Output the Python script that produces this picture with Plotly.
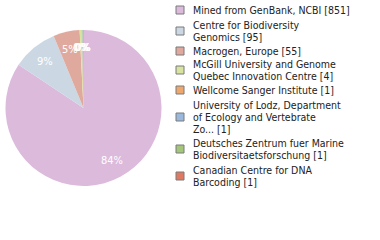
import math
import plotly.graph_objects as go

# ---- data ----
labels = [
    "Mined from GenBank, NCBI",
    "Centre for Biodiversity Genomics",
    "Macrogen, Europe",
    "McGill University and Genome Quebec Innovation Centre",
    "Wellcome Sanger Institute",
    "University of Lodz, Department of Ecology and Vertebrate Zo...",
    "Deutsches Zentrum fuer Marine Biodiversitaetsforschung",
    "Canadian Centre for DNA Barcoding",
]
counts = [851, 95, 55, 4, 1, 1, 1, 1]
# legend line wrapping (text as shown)
legend_lines = [
    ["Mined from GenBank, NCBI [851]"],
    ["Centre for Biodiversity", "Genomics [95]"],
    ["Macrogen, Europe [55]"],
    ["McGill University and Genome", "Quebec Innovation Centre [4]"],
    ["Wellcome Sanger Institute [1]"],
    ["University of Lodz, Department", "of Ecology and Vertebrate", "Zo... [1]"],
    ["Deutsches Zentrum fuer Marine", "Biodiversitaetsforschung [1]"],
    ["Canadian Centre for DNA", "Barcoding [1]"],
]
colors = ["#dcbadc", "#cbd8e3", "#dfa99d", "#d9e3a0", "#eea86e", "#99b8dc", "#a3c67b", "#de7a62"]

W, H = 380, 240
FONT = "DejaVu Sans Condensed, DejaVu Sans"

# pie geometry (pixels)
PX0, PX1, PY0, PY1 = 5, 162, 30, 186
cx, cy = (PX0 + PX1) / 2, (PY0 + PY1) / 2
R = (PY1 - PY0) / 2

fig = go.Figure()
fig.add_trace(go.Pie(
    labels=labels, values=counts, sort=False, direction="clockwise", rotation=0,
    marker=dict(colors=colors, line=dict(width=0)),
    textinfo="none",
    domain=dict(x=[PX0 / W, PX1 / W], y=[(H - PY1) / H, (H - PY0) / H]),
    showlegend=False, hoverinfo="label+value+percent",
))

shapes, annots = [], []

# percentage labels placed along each slice's bisector
total = sum(counts)
cum = 0
for v in counts:
    theta = (cum + v / 2) / total * 2 * math.pi
    cum += v
    rr = 0.77 * R
    x = cx + rr * math.sin(theta)
    y = cy - rr * math.cos(theta)
    annots.append(dict(xref="paper", yref="paper", x=x / W, y=1 - y / H,
                       xanchor="center", yanchor="middle", showarrow=False,
                       text=f"{round(100 * v / total)}%",
                       font=dict(size=11, color="white", family=FONT)))

# manual legend layout (pixel positions)
marker_y = [10, 31, 51, 70, 90, 117, 149, 176]
line_y = [[10], [25, 37], [51], [64, 76], [90], [105, 117, 129], [143, 155], [170, 182]]
for i, c in enumerate(colors):
    my = marker_y[i]
    shapes.append(dict(type="rect", xref="paper", yref="paper",
                       x0=176 / W, x1=184 / W, y0=1 - (my + 4) / H, y1=1 - (my - 4) / H,
                       fillcolor=c, line=dict(color="#7a7a7a", width=1)))
    for txt, ly in zip(legend_lines[i], line_y[i]):
        annots.append(dict(xref="paper", yref="paper", x=191 / W, y=1 - ly / H,
                           xanchor="left", yanchor="middle", text=txt, showarrow=False,
                           font=dict(size=10.5, color="#222", family=FONT)))

fig.update_layout(
    width=W, height=H, margin=dict(l=0, r=0, t=0, b=0),
    paper_bgcolor="white", plot_bgcolor="white", showlegend=False,
    shapes=shapes, annotations=annots,
)
fig.write_html("out.html")
